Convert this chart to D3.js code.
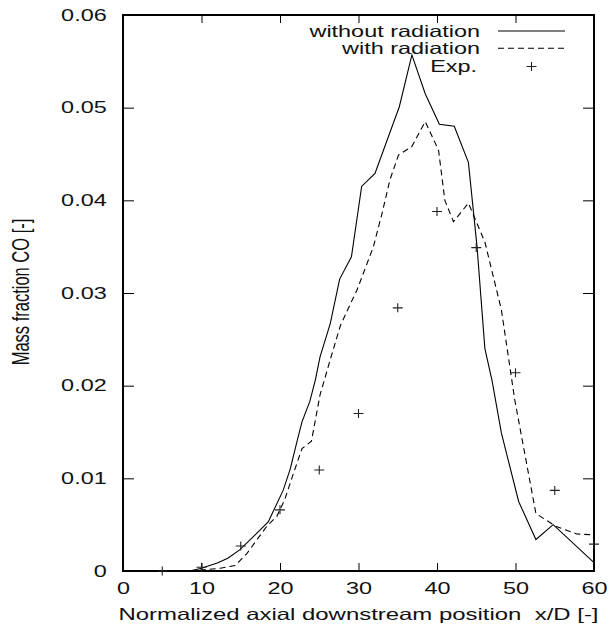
<!DOCTYPE html>
<html>
<head>
<meta charset="utf-8">
<script src="https://cdn.jsdelivr.net/npm/d3@7"></script>
<style>
  body { margin: 0; background: #fff; }
  svg text { font-family: "Liberation Sans", Arial, sans-serif; fill: #111; }
</style>
</head>
<body>
<svg id="svg"></svg>
<script>
const xNoRad = [8.5, 10, 12.1, 13.4, 14.9, 16.6, 18.5, 20.4, 21.3, 22.2, 22.8, 23.8, 24.5, 25.1, 26.4, 27.6, 29.1, 30.4, 32.1, 35.2, 36.8, 38.5, 40.3, 42.2, 44.0, 45.1, 46.1, 47.0, 48.2, 50.4, 52.6, 54.8, 60];
const yNoRad = [0, 0.0003, 0.0009, 0.0014, 0.0023, 0.0037, 0.0053, 0.0087, 0.011, 0.0141, 0.0161, 0.0183, 0.0206, 0.0231, 0.0267, 0.0315, 0.0339, 0.0415, 0.0429, 0.0501, 0.0557, 0.0515, 0.0482, 0.048, 0.0441, 0.035, 0.024, 0.0206, 0.0149, 0.0075, 0.0034, 0.005, 0.0009];

const xRad = [8.5, 10, 12.4, 14.3, 15.8, 17.0, 18.3, 19.6, 20.6, 21.7, 22.8, 24.0, 25.1, 26.4, 27.7, 28.9, 29.8, 31.9, 33.0, 34.0, 35.1, 36.8, 38.5, 40.2, 41.0, 42.1, 44.0, 46.1, 48.2, 49.9, 52.6, 55.2, 57.8, 60];
const yRad = [0, 0.0001, 0.0003, 0.0006, 0.0019, 0.0033, 0.0048, 0.0059, 0.0077, 0.0105, 0.0132, 0.014, 0.019, 0.0228, 0.0265, 0.0287, 0.0303, 0.035, 0.0386, 0.0422, 0.0449, 0.0458, 0.0485, 0.0454, 0.040, 0.0377, 0.0397, 0.0355, 0.0282, 0.0185, 0.0062, 0.0048, 0.004, 0.0039];

const xExp = [5, 10, 15, 20, 25, 30, 35, 40, 45, 50, 55, 60];
const yExp = [0, 0.0004, 0.0027, 0.0066, 0.0109, 0.017, 0.0284, 0.0388, 0.0349, 0.0214, 0.0087, 0.0029];

const xTicks = [0, 10, 20, 30, 40, 50, 60];
const yTicks = [0, 0.01, 0.02, 0.03, 0.04, 0.05, 0.06];
const legendLabels = ['without radiation', 'with radiation', 'Exp.'];

const width = 609, height = 628;
const margin = {top: 15, right: 15, bottom: 57, left: 123};
const sx = 1.42; // the original output is stretched sideways
const fontSize = 16.5;

const svg = d3.select('#svg')
  .attr('width', width)
  .attr('height', height);

const x = d3.scaleLinear().domain([0, 60]).range([margin.left, width - margin.right]);
const y = d3.scaleLinear().domain([0, 0.06]).range([height - margin.bottom, margin.top]);

const fmtY = d => d === 0 ? '0' : d.toFixed(2);

function styleAxis(g) {
  g.select('.domain').remove();
  g.selectAll('.tick line').attr('stroke', '#000').attr('stroke-width', 1);
  g.selectAll('text')
    .attr('font-size', fontSize)
    .attr('font-family', '"Liberation Sans", Arial, sans-serif')
    .attr('fill', '#111');
}

// bottom + top
svg.append('g')
  .attr('transform', `translate(0,${y(0)})`)
  .call(d3.axisBottom(x).tickValues(xTicks).tickSize(-8).tickPadding(11))
  .call(styleAxis)
  .selectAll('text').attr('transform', `scale(${sx},1)`);

svg.append('g')
  .attr('transform', `translate(0,${y(0.06)})`)
  .call(d3.axisTop(x).tickValues(xTicks).tickSize(-8).tickFormat(''))
  .call(styleAxis);

// left + right
svg.append('g')
  .attr('transform', `translate(${x(0)},0)`)
  .call(d3.axisLeft(y).tickValues(yTicks).tickSize(-11).tickPadding(11.5).tickFormat(fmtY))
  .call(styleAxis)
  .selectAll('text').attr('transform', `scale(${sx},1)`);

svg.append('g')
  .attr('transform', `translate(${x(60)},0)`)
  .call(d3.axisRight(y).tickValues(yTicks).tickSize(-11).tickFormat(''))
  .call(styleAxis);

// frame
svg.append('rect')
  .attr('x', x(0)).attr('y', y(0.06))
  .attr('width', x(60) - x(0)).attr('height', y(0) - y(0.06))
  .attr('fill', 'none').attr('stroke', '#000').attr('stroke-width', 2);

// lines
const line = d3.line().x(d => x(d[0])).y(d => y(d[1]));

svg.append('path')
  .datum(d3.zip(xNoRad, yNoRad))
  .attr('d', line)
  .attr('fill', 'none').attr('stroke', '#000').attr('stroke-width', 1.1);

svg.append('path')
  .datum(d3.zip(xRad, yRad))
  .attr('d', line)
  .attr('fill', 'none').attr('stroke', '#000').attr('stroke-width', 1.1)
  .attr('stroke-dasharray', '6,4');

function plus(g, cx, cy) {
  g.append('path')
    .attr('d', `M${cx - 5},${cy}H${cx + 5}M${cx},${cy - 4.5}V${cy + 4.5}`)
    .attr('stroke', '#222').attr('stroke-width', 1.1).attr('fill', 'none');
}

const expG = svg.append('g');
d3.zip(xExp, yExp).forEach(d => plus(expG, x(d[0]), y(d[1])));

// legend
const legY = [31, 48.3, 66.5];
const leg = svg.append('g');
legendLabels.forEach((t, i) => {
  leg.append('text')
    .attr('transform', `translate(${i === 2 ? 477 : 480},${legY[i]}) scale(${sx},1)`)
    .attr('text-anchor', 'end')
    .attr('dy', '0.35em')
    .attr('font-size', fontSize)
    .text(t);
});
leg.append('line')
  .attr('x1', 498).attr('x2', 565).attr('y1', legY[0]).attr('y2', legY[0])
  .attr('stroke', '#000').attr('stroke-width', 1.1);
leg.append('line')
  .attr('x1', 498).attr('x2', 565).attr('y1', legY[1]).attr('y2', legY[1])
  .attr('stroke', '#000').attr('stroke-width', 1.1).attr('stroke-dasharray', '6,4');
plus(leg, 531.5, legY[2]);

// axis titles
svg.append('text')
  .attr('transform', `translate(${(x(0) + x(60)) / 2},620) scale(${sx},1)`)
  .attr('text-anchor', 'middle')
  .attr('font-size', fontSize)
  .attr('textLength', 480 / sx)
  .attr('lengthAdjust', 'spacingAndGlyphs')
  .style('white-space', 'pre')
  .text('Normalized axial downstream position  x/D [-]');

svg.append('text')
  .attr('transform', `translate(29,292) rotate(-90) scale(1,${sx})`)
  .attr('text-anchor', 'middle')
  .attr('font-size', fontSize)
  .text('Mass fraction CO [-]');
</script>
</body>
</html>
